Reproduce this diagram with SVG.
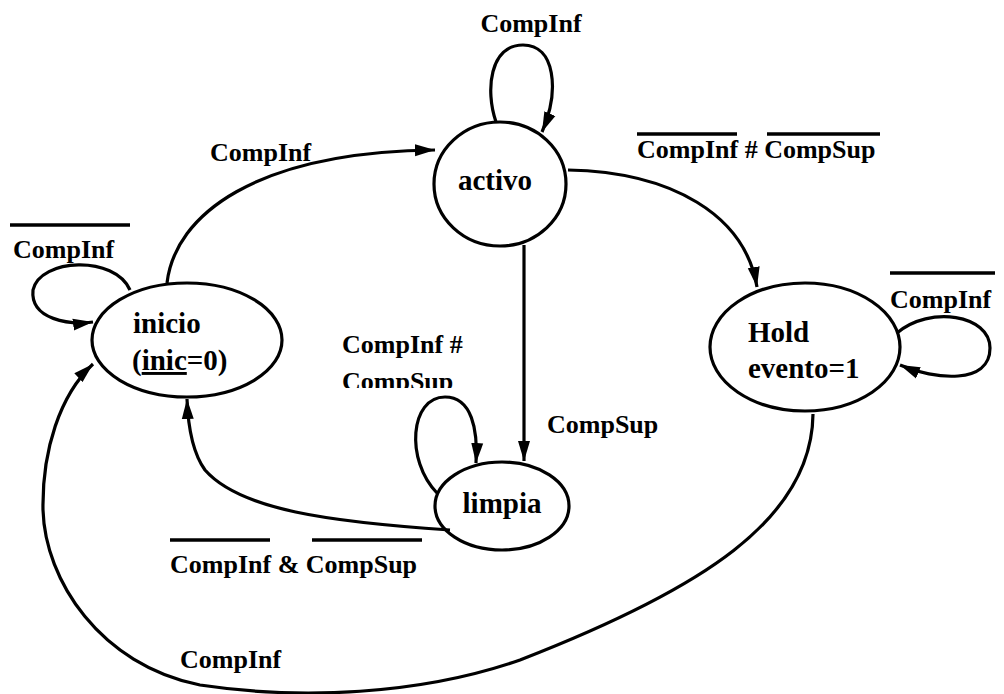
<svg xmlns="http://www.w3.org/2000/svg" width="1004" height="694" viewBox="0 0 1004 694">
<style>
.n{fill:none;stroke:#000;stroke-width:3.2}
.e{fill:none;stroke:#000;stroke-width:3.2}
.o{stroke:#000;stroke-width:3.5}
.t{font-family:"Liberation Serif","Times New Roman",serif;font-weight:bold;fill:#000}
.lab{font-size:26px}
.nl{font-size:29px}
</style>
<defs>
<marker id="a" markerUnits="userSpaceOnUse" markerWidth="22" markerHeight="14" refX="20" refY="7" orient="auto">
<path d="M0,1 L20,7 L0,13 Z" fill="#000"/>
</marker>
<clipPath id="cut"><rect x="330" y="330" width="160" height="58"/></clipPath>
</defs>
<rect width="1004" height="694" fill="#fff"/>
<g id="connectors">
<path class="e" d="M496,122 C485,90 490,45 523,45 C555,45 560,90 542,132" marker-end="url(#a)"/>
<path class="e" d="M167,283 C175,215 255,152 435,150" marker-end="url(#a)"/>
<path class="e" d="M568,170 C672,172 745,215 757,287" marker-end="url(#a)"/>
<path class="e" d="M524,245 L524,461" marker-end="url(#a)"/>
<path class="e" d="M897,333 C930,305 990,315 990,348 C990,385 935,380 900,365" marker-end="url(#a)"/>
<path class="e" d="M130,290 C115,255 40,258 33,290 C30,320 70,325 93,322" marker-end="url(#a)"/>
<path class="e" d="M437,493 C405,460 410,397 445,397 C472,397 478,430 476,463" marker-end="url(#a)"/>
<path class="e" d="M450,530 C330,522 240,510 205,470 C192,452 188,425 187,399" marker-end="url(#a)"/>
<path class="e" d="M813,414 C812,520 700,590 520,660 C420,695 300,700 200,685 C100,665 45,580 43,510 C42,450 60,395 93,364" marker-end="url(#a)"/>
</g>
<g id="labels">
<text class="t lab" x="531" y="32" text-anchor="middle">CompInf</text>
<text class="t lab" x="210" y="161">CompInf</text>
<line class="o" x1="637" y1="134" x2="737" y2="134"/>
<line class="o" x1="767" y1="134" x2="880" y2="134"/>
<text class="t lab" x="637" y="158">CompInf # CompSup</text>
<line class="o" x1="10" y1="225" x2="130" y2="225"/>
<text class="t lab" x="13" y="258">CompInf</text>
<line class="o" x1="890" y1="273" x2="995" y2="273"/>
<text class="t lab" x="890" y="308">CompInf</text>
<text class="t lab" x="342" y="353">CompInf #</text>
<text class="t lab" x="342" y="390" clip-path="url(#cut)">CompSup</text>
<text class="t lab" x="547" y="433">CompSup</text>
<line class="o" x1="170" y1="540" x2="270" y2="540"/>
<line class="o" x1="312" y1="540" x2="422" y2="540"/>
<text class="t lab" x="170" y="573">CompInf &amp; CompSup</text>
<text class="t lab" x="180" y="668">CompInf</text>
</g>
<g id="activo">
<ellipse class="n" cx="500" cy="184" rx="66" ry="62"/>
<text class="t nl" x="495" y="190" text-anchor="middle">activo</text>
</g>
<g id="inicio">
<ellipse class="n" cx="187" cy="340" rx="95" ry="57"/>
<text class="t nl" x="133" y="333">inicio</text>
<text class="t nl" x="132" y="370">(<tspan text-decoration="underline">inic</tspan>=0)</text>
</g>
<g id="limpia">
<ellipse class="n" cx="502" cy="506" rx="67" ry="44"/>
<text class="t nl" x="502" y="513" text-anchor="middle">limpia</text>
</g>
<g id="Hold">
<ellipse class="n" cx="805" cy="347" rx="95" ry="64"/>
<text class="t nl" x="748" y="342">Hold</text>
<text class="t nl" x="748" y="378">evento=1</text>
</g>
</svg>
